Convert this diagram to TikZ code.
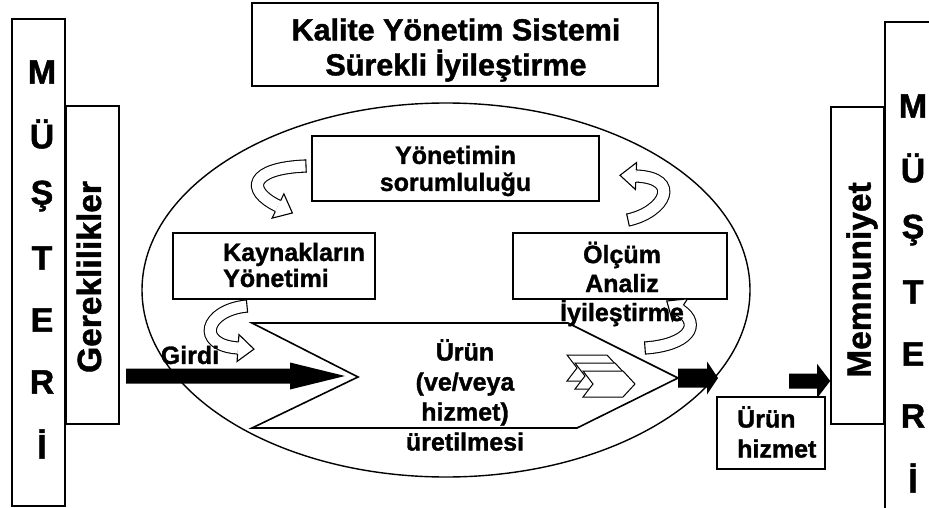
\documentclass[tikz,border=0pt]{standalone}
\usepackage{fontspec}
\setmainfont{Liberation Sans}[BoldFeatures={FakeBold=1.3}]
\usetikzlibrary{arrows.meta,calc,shapes.geometric}
\newcommand\myfs[2]{\fontsize{#1}{#2}\selectfont\bfseries}
% hollow curved arrow: start, control1, control2, end
\newcommand\hollowarr[4]{%
  \draw[line width=1.1pt, double=white, double distance=11pt] (#1) .. controls (#2) and (#3) .. (#4);
  \fill[white] ($(#4)!13.5pt!90:(#3)$) -- ($(#4)!-16pt!(#3)$) -- ($(#4)!13.5pt!-90:(#3)$) -- cycle;
  \draw[line width=1.1pt, line join=miter] ($(#4)!6.05pt!90:(#3)$) -- ($(#4)!13.5pt!90:(#3)$) -- ($(#4)!-16pt!(#3)$) -- ($(#4)!13.5pt!-90:(#3)$) -- ($(#4)!6.05pt!-90:(#3)$);
  \draw[line width=1.1pt] ($(#1)!6.6pt!90:(#2)$) -- ($(#1)!6.6pt!-90:(#2)$);
}
% horizontal block arrow: start, end, shaft half, head half, head length
\newcommand\blockarr[5]{%
  \fill ($(#1)+(0,-#3)$) -- ($(#2)+(-#5,-#3)$) -- ($(#2)+(-#5,-#4)$) -- (#2) -- ($(#2)+(-#5,#4)$) -- ($(#2)+(-#5,#3)$) -- ($(#1)+(0,#3)$) -- cycle;
}
\newcommand\chev[2]{%
  \draw[fill=white, line width=1pt, line join=miter] (#1,#2) -- ++(40,0) -- ++(12,13) -- ++(-12,13) -- ++(-40,0) -- ++(10,-13) -- cycle;
}
\tikzset{
  box/.style={draw, line width=1.6pt, fill=white, rectangle, inner sep=0pt},
  ellbox/.style={draw, ellipse, line width=1.4pt, inner sep=0pt, minimum width=608pt, minimum height=374pt},
  big/.style={font=\myfs{34}{38}, inner sep=0pt},
  rot/.style={font=\myfs{33.5}{38}, inner sep=0pt},
  ttl/.style={font=\myfs{30.5}{35}, inner sep=0pt, align=center},
  mid/.style={font=\myfs{25}{29}, inner sep=0pt, align=center},
}
\begin{document}
\begin{tikzpicture}[x=1pt,y=-1pt]
\useasboundingbox (0,0) rectangle (929,508);
\fill[white] (0,0) rectangle (929,508);

% ellipse
\node[ellbox] (ell) at (446,290) {};

% title
\node[box, minimum width=406pt, minimum height=83pt] (title) at (455,44.5) {};
\node[ttl] (titletxt) at (456,50) {Kalite Yönetim Sistemi\\Sürekli İyileştirme};

% left customer column
\node[box, minimum width=53pt, minimum height=487pt] (musL) at (38.5,262.5) {};
\foreach \i/\c in {0/M,1/Ü,2/Ş,3/T,4/E,5/R,6/İ}
  \node[big] (L\i) at (42,{72+62*\i}) {\c};
\node[box, minimum width=53pt, minimum height=318pt] (gerek) at (92.5,265) {};
\node[rot, rotate=90] (gerektxt) at (89,277) {Gereklilikler};

% right customer column
\draw[line width=1.6pt] (929,22) -- (885,22) -- (885,508);
\foreach \i/\c in {0/M,1/Ü,2/Ş,3/T,4/E,5/R,6/İ}
  \node[big] (R\i) at (913,{106+62*\i}) {\c};
\node[box, minimum width=53pt, minimum height=317pt] (memn) at (857.5,265.5) {};
\node[rot, rotate=90] (memntxt) at (862,280) {Memnuniyet};

% inner boxes
\node[box, minimum width=287pt, minimum height=65pt] (yon) at (455.5,168.5) {};
\node[mid, font=\myfs{25}{27}] (yontxt) at (455.5,171) {Yönetimin\\sorumluluğu};
\node[box, minimum width=202pt, minimum height=66pt] (kay) at (274,266) {};
\node[mid, align=left, anchor=west, font=\myfs{25}{26}] (kaytxt) at (223,265) {Kaynakların\\Yönetimi};
\node[box, minimum width=214pt, minimum height=66pt] (olc) at (620,266) {};

% product pentagon
\coordinate (p1) at (252,323);
\coordinate (p2) at (568,323);
\coordinate (p3) at (678,378);
\coordinate (p4) at (577,428);
\coordinate (p5) at (252,428);
\coordinate (p6) at (358,377);
\draw[line width=1.6pt, fill=white, line join=miter] (p1) -- (p2) -- (p3) -- (p4) -- (p5) -- (p6) -- cycle;

% chevron icon
\chev{567}{355}
\chev{575}{363}
\chev{583}{371}

% hollow curved arrows
\hollowarr{306,166}{250,168}{245,190}{278,206}
\hollowarr{628,220}{665,212}{682,178}{636,176}
\hollowarr{645,348}{688,345}{702,325}{680,310}
\hollowarr{247,306}{205,310}{195,345}{238,348}

% block arrows
\coordinate (girdiStart) at (126,376);
\coordinate (girdiEnd) at (345,376);
\blockarr{girdiStart}{girdiEnd}{7.5}{13.5}{55}
\coordinate (outEnd) at (718,378);
\blockarr{p3}{outEnd}{9.5}{16.5}{11}
\coordinate (satStart) at (789,381);
\coordinate (satEnd) at (satStart -| memn.west);
\blockarr{satStart}{satEnd}{7.5}{17}{13}

% output box
\node[box, minimum width=108pt, minimum height=72pt] (urun) at (771,433) {};
\node[mid, align=left, anchor=west, font=\myfs{25}{30}] (uruntxt) at (737,432) {Ürün\\hizmet};

% texts on top
\node[mid] (olctxt) at (622,284) {Ölçüm\\Analiz\\İyileştirme};
\node[mid, font=\myfs{25}{30}] (prodtxt) at (465,395) {Ürün\\(ve/veya\\hizmet)\\üretilmesi};
\node[mid] (girdi) at (190,355) {Girdi};
\end{tikzpicture}
\end{document}
